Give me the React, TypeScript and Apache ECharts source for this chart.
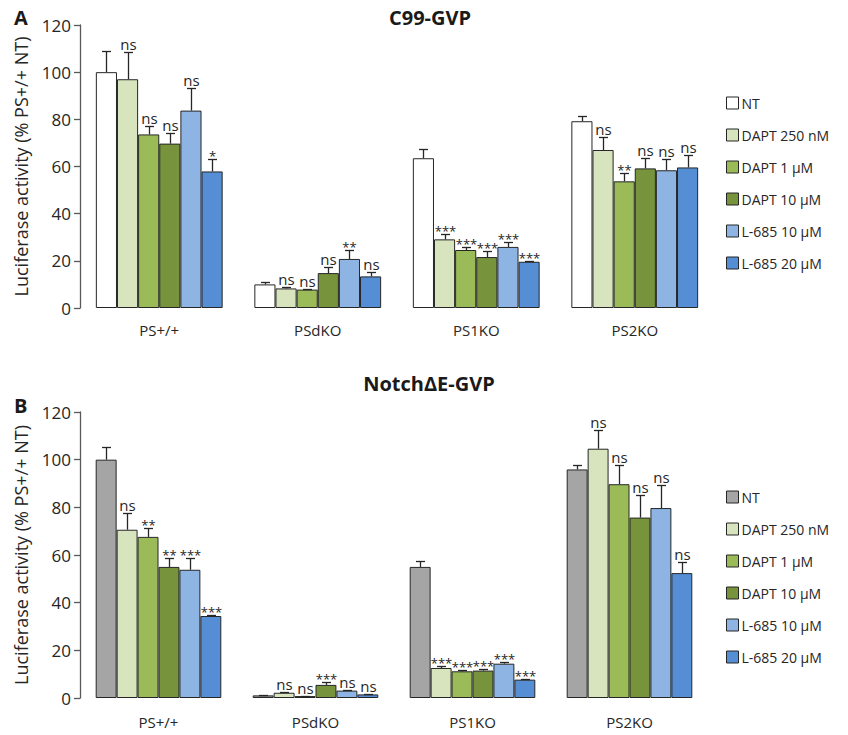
import React, { useEffect, useRef } from "react";
import * as echarts from "echarts";

const categories = ["PS+/+", "PSdKO", "PS1KO", "PS2KO"];
const treatments = ["NT", "DAPT 250 nM", "DAPT 1 μM", "DAPT 10 μM", "L-685 10 μM", "L-685 20 μM"];
const colorsA = ["#ffffff", "#d7e4bd", "#9bbb59", "#77933c", "#8db4e2", "#558ed5"];
const colorsB = ["#a5a5a5", "#d7e4bd", "#9bbb59", "#77933c", "#8db4e2", "#558ed5"];
const yTicks = [0, 20, 40, 60, 80, 100, 120];

// Panel A: C99-GVP (mean per treatment, across categories)
const c99Means = [
  [100, 10.0, 63.5, 79.2],
  [97.0, 8.3, 29.1, 67.0],
  [73.6, 7.8, 24.6, 53.7],
  [69.7, 14.8, 21.6, 59.2],
  [83.7, 20.8, 25.9, 58.4],
  [57.9, 13.4, 19.6, 59.6],
];
const c99Errors = [
  [8.8, 0.9, 4.1, 2.4],
  [11.6, 0.5, 2.4, 5.5],
  [3.7, 0.3, 1.3, 3.7],
  [4.4, 2.4, 2.4, 4.5],
  [9.7, 3.8, 2.2, 4.6],
  [5.4, 1.7, 0.5, 5.4],
];
const c99Signif = [
  ["", "", "", ""],
  ["ns", "ns", "***", "ns"],
  ["ns", "ns", "***", "**"],
  ["ns", "ns", "***", "ns"],
  ["ns", "**", "***", "ns"],
  ["*", "ns", "***", "ns"],
];

// Panel B: NotchΔE-GVP
const notchMeans = [
  [100, 1.1, 55.0, 95.9],
  [70.6, 2.2, 12.6, 104.6],
  [67.6, 0.8, 11.2, 89.7],
  [55.0, 5.5, 11.5, 75.7],
  [53.8, 3.1, 14.4, 79.7],
  [34.4, 1.5, 7.7, 52.4],
];
const notchErrors = [
  [5.3, 0.2, 2.3, 2.0],
  [7.0, 0.5, 0.7, 8.0],
  [3.6, 0.2, 0.5, 8.2],
  [3.7, 1.1, 0.5, 9.6],
  [4.8, 0.3, 0.8, 9.7],
  [0.4, 0.2, 0.4, 4.7],
];
const notchSignif = [
  ["", "", "", ""],
  ["ns", "ns", "***", "ns"],
  ["**", "ns", "***", "ns"],
  ["**", "***", "***", "ns"],
  ["***", "ns", "***", "ns"],
  ["***", "ns", "***", "ns"],
];

const FONT = "Open Sans";
const N = treatments.length;

function buildPanel(panel: number, means: number[][], errors: number[][], signif: string[][], colors: string[]) {
  const series: any[] = treatments.map((t, i) => ({
    type: "bar",
    name: t,
    xAxisIndex: panel,
    yAxisIndex: panel,
    barGap: "0%",
    barCategoryGap: "20%",
    data: means[i],
    itemStyle: { color: colors[i], borderColor: "#262626", borderWidth: 1 },
  }));
  const errData: any[] = [];
  const labels: string[] = [];
  for (let i = 0; i < N; i++) {
    for (let c = 0; c < categories.length; c++) {
      errData.push([c, i, means[i][c], means[i][c] + errors[i][c]]);
      labels.push(signif[i][c]);
    }
  }
  series.push({
    type: "custom",
    xAxisIndex: panel,
    yAxisIndex: panel,
    silent: true,
    z: 5,
    encode: { x: 0, y: 3 },
    data: errData,
    renderItem: (params: any, api: any) => {
      const cat = api.value(0);
      const idx = api.value(1);
      const val = api.value(2);
      const top = api.value(3);
      const base = api.coord([cat, val]);
      const tp = api.coord([cat, top]);
      const band = api.size([1, 0])[0];
      const bw = (band * 0.8) / N;
      const x = Math.round(base[0] - band * 0.4 + (idx + 0.5) * bw) + 0.5;
      const yTop = Math.round(tp[1]) + 0.5;
      const lab = labels[params.dataIndex];
      const star = lab.indexOf("*") >= 0;
      return {
        type: "group",
        children: [
          { type: "line", shape: { x1: x, y1: base[1], x2: x, y2: yTop }, style: { stroke: "#262626", lineWidth: 1.3 } },
          { type: "line", shape: { x1: x - 4.5, y1: yTop, x2: x + 4.5, y2: yTop }, style: { stroke: "#262626", lineWidth: 1.3 } },
          {
            type: "text",
            x: x,
            y: yTop - (star ? -3 : 1),
            style: {
              text: lab,
              font: star ? `13px ${FONT}` : `15px ${FONT}`,
              fill: "#262626",
              align: "center",
              verticalAlign: "bottom",
            },
          },
        ],
      };
    },
  });
  return series;
}

export default function App() {
  const ref = useRef<HTMLDivElement>(null);
  useEffect(() => {
    if (!ref.current) return;
    const chart = echarts.init(ref.current, undefined, { renderer: "svg" });
    const yAxisBase = (gridIndex: number) => ({
      type: "value",
      gridIndex,
      min: yTicks[0],
      max: yTicks[yTicks.length - 1],
      interval: yTicks[1] - yTicks[0],
      name: "Luciferase activity (% PS+/+ NT)",
      nameLocation: "middle",
      nameGap: 50,
      nameTextStyle: { fontFamily: FONT, fontSize: 18, color: "#262626" },
      axisLine: { show: true, lineStyle: { color: "#595959", width: 1.3 } },
      axisTick: { show: true, inside: false, length: 6, lineStyle: { color: "#595959", width: 1.3 } },
      axisLabel: { fontFamily: FONT, fontSize: 17, color: "#262626", margin: 9 },
      splitLine: { show: false },
    });
    const xAxisBase = (gridIndex: number, margin: number) => ({
      type: "category",
      gridIndex,
      data: categories,
      axisLine: { show: false },
      axisTick: { show: false },
      axisLabel: { fontFamily: FONT, fontSize: 15, color: "#262626", margin },
    });
    const legendBase = (top: number, colors: string[]) => ({
      orient: "vertical",
      left: 721,
      top,
      itemWidth: 12,
      itemHeight: 12,
      itemGap: 18,
      selectedMode: false,
      icon: "rect",
      textStyle: { fontFamily: FONT, fontSize: 14, color: "#262626", padding: [0, 0, 0, -2] },
      data: treatments.map((t, i) => ({
        name: t,
        icon: "rect",
        itemStyle: { color: colors[i], borderColor: "#262626", borderWidth: 1 },
      })),
    });
    const option: any = {
      animation: false,
      backgroundColor: "#ffffff",
      grid: [
        { left: 80, top: 25, width: 634, height: 283 },
        { left: 80, top: 412, width: 628, height: 286 },
      ],
      xAxis: [xAxisBase(0, 14), xAxisBase(1, 16)],
      yAxis: [yAxisBase(0), yAxisBase(1)],
      legend: [legendBase(91, colorsA), legendBase(485, colorsB)],
      graphic: [
        { type: "text", x: 430, y: 17, style: { text: "C99-GVP", font: `bold 20px ${FONT}`, fill: "#1a1a1a", align: "center", verticalAlign: "middle" } },
        { type: "text", x: 429, y: 383, style: { text: "NotchΔE-GVP", font: `bold 20px ${FONT}`, fill: "#1a1a1a", align: "center", verticalAlign: "middle" } },
        { type: "text", x: 14, y: 17, style: { text: "A", font: `bold 20px ${FONT}`, fill: "#1a1a1a", verticalAlign: "middle" } },
        { type: "text", x: 14, y: 405, style: { text: "B", font: `bold 20px ${FONT}`, fill: "#1a1a1a", verticalAlign: "middle" } },
      ],
      series: [
        ...buildPanel(0, c99Means, c99Errors, c99Signif, colorsA),
        ...buildPanel(1, notchMeans, notchErrors, notchSignif, colorsB),
      ],
    };
    chart.setOption(option);
    return () => chart.dispose();
  }, []);
  return <div ref={ref} style={{ position: "fixed", left: 0, top: 0, width: 848, height: 735 }} />;
}
